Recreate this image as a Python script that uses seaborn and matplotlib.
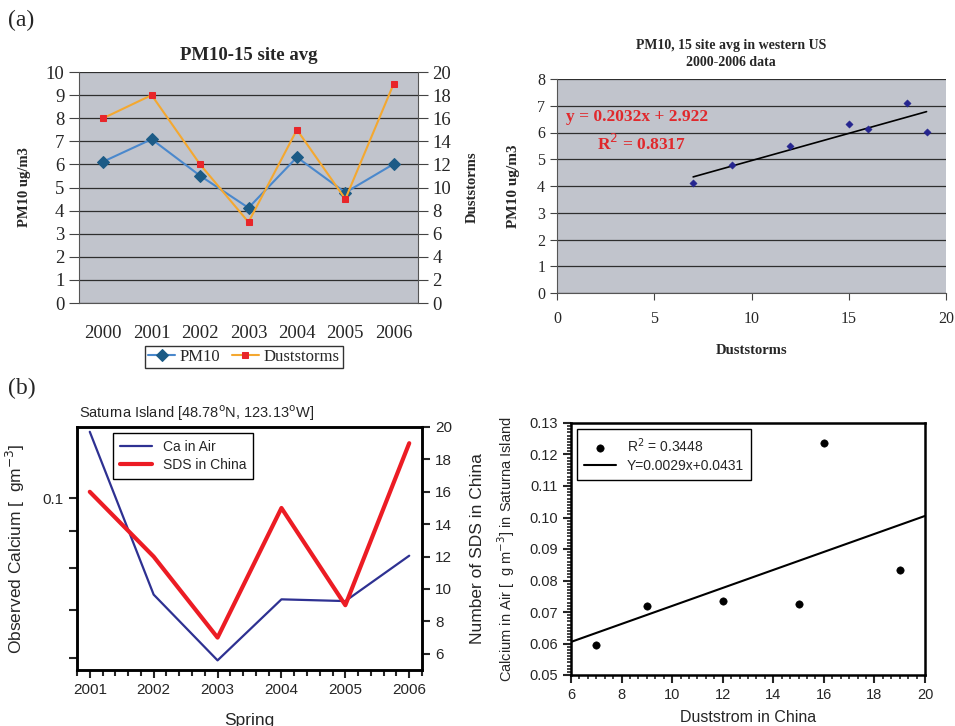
import numpy as np
import matplotlib
matplotlib.use("Agg")
import matplotlib.pyplot as plt
import seaborn as sns
from matplotlib.ticker import MultipleLocator, NullLocator

# Panel (a): PM10 15 site average and duststorm counts
years_a = ["2000", "2001", "2002", "2003", "2004", "2005", "2006"]
pm10 = [6.12, 7.09, 5.51, 4.12, 6.31, 4.78, 6.02]
duststorms = [16, 18, 12, 7, 15, 9, 19]

# trend line ends of the PM10 vs duststorms fit
trend_a_x = [7, 19]
trend_a_y = [4.34, 6.78]

# Panel (b): Saturna Island calcium and SDS in China
years_b = [2001, 2002, 2003, 2004, 2005, 2006]
ca_air = [0.1235, 0.0735, 0.0596, 0.0724, 0.0720, 0.0832]
sds_china = [16, 12, 7, 15, 9, 19]
fit_b_x = [6, 20]
fit_b_y = [0.0605, 0.1005]

sns.set_style("white")
SERIF = "Liberation Serif"
SANS = "Liberation Sans"
plt.rcParams["font.family"] = [SANS, "DejaVu Sans"]

W, H = 955, 726
GRAY = "#c1c4cc"
GRID = "#2e2e2e"
fig = plt.figure(figsize=(W / 100, H / 100), dpi=100)


def box(x0, y0, x1, y1):
    # pixel box -> figure fraction rect
    return [x0 / W, 1 - y1 / H, (x1 - x0) / W, (y1 - y0) / H]


# ---------- (a) left: time series ----------
ax = fig.add_axes(box(79, 72, 418, 303))
ax.set_facecolor(GRAY)
xs = np.arange(len(years_a))
sns.lineplot(x=xs, y=pm10, ax=ax, color="#4a88cc", lw=1.5, marker="D",
             markersize=6, markerfacecolor="#1c5b86", markeredgecolor="#1c5b86",
             label="PM10", legend=False)
ax2 = ax.twinx()
sns.lineplot(x=xs, y=duststorms, ax=ax2, color="#f4a830", lw=1.5, marker="s",
             markersize=5, markerfacecolor="#e8262a", markeredgecolor="#e8262a",
             label="Duststorms", legend=False)
ax.set_xlim(-0.5, 6.5)
ax.set_ylim(0, 10)
ax2.set_ylim(0, 20)
ax.set_yticks(range(0, 11))
ax2.set_yticks(range(0, 21, 2))
ax.yaxis.grid(True, color=GRID, lw=0.9)
ax.set_xticks(xs)
ax.set_xticklabels(years_a)
ax.set_xticks(np.arange(-0.5, 7, 1), minor=True)
ax.tick_params(axis="x", which="major", length=0, pad=16, labelsize=13.5,
               labelfontfamily=SERIF)
ax.tick_params(axis="x", which="minor", length=7, color="#444444")
ax.tick_params(axis="y", length=7, color="#444444", labelsize=13.5,
               labelfontfamily=SERIF, left=True)
ax2.tick_params(axis="y", length=7, color="#444444", labelsize=13.5,
                labelfontfamily=SERIF, right=True)
for s in ["top", "right"]:
    ax.spines[s].set_visible(False)
for s in ["top", "left", "bottom"]:
    ax2.spines[s].set_visible(False)
for a in (ax, ax2):
    for s in a.spines.values():
        s.set_color("#555555")
ax.set_ylabel("PM10 ug/m3", fontfamily=SERIF, fontweight="bold", fontsize=10.5)
ax.yaxis.set_label_coords(-0.142, 0.5)
ax2.set_ylabel("Duststorms", fontfamily=SERIF, fontweight="bold", fontsize=10.5)
ax2.yaxis.set_label_coords(1.142, 0.5)
fig.text(249 / W, 1 - 55 / H, "PM10-15 site avg", fontfamily=SERIF,
         fontweight="bold", fontsize=13.5, ha="center", va="center")
h1, l1 = ax.get_legend_handles_labels()
h2, l2 = ax2.get_legend_handles_labels()
leg = fig.legend(h1 + h2, l1 + l2, loc="center", ncol=2,
                 bbox_to_anchor=(244 / W, 1 - 357 / H),
                 prop={"family": SERIF, "size": 12}, frameon=True,
                 fancybox=False, edgecolor="#333333", framealpha=1,
                 handlelength=1.6, handletextpad=0.3, columnspacing=0.7,
                 borderpad=0.2)

# ---------- (a) right: scatter with trend ----------
axr = fig.add_axes(box(557, 79, 946, 293))
axr.set_facecolor(GRAY)
sns.scatterplot(x=duststorms, y=pm10, ax=axr, marker="D", s=14,
                color="#25258f", edgecolor="#25258f", zorder=3)
sns.lineplot(x=trend_a_x, y=trend_a_y, ax=axr, color="black", lw=1.2)
axr.set_xlim(0, 20)
axr.set_ylim(0, 8)
axr.set_xticks([0, 5, 10, 15, 20])
axr.set_yticks(range(0, 9))
axr.yaxis.grid(True, color=GRID, lw=0.9)
axr.tick_params(axis="both", length=5, color="#444444", labelsize=11.5,
                labelfontfamily=SERIF, left=True, bottom=True)
axr.tick_params(axis="x", pad=8)
for s in ["top", "right"]:
    axr.spines[s].set_visible(False)
for s in ["left", "bottom"]:
    axr.spines[s].set_color("#555555")
axr.set_ylabel("PM10 ug/m3", fontfamily=SERIF, fontweight="bold", fontsize=11)
axr.yaxis.set_label_coords(-0.095, 0.5)
axr.set_xlabel("Duststorms", fontfamily=SERIF, fontweight="bold", fontsize=10.5)
axr.xaxis.set_label_coords(0.5, -0.238)
fig.text(731 / W, 1 - 45 / H, "PM10, 15 site avg in western US",
         fontfamily=SERIF, fontweight="bold", fontsize=10, ha="center", va="center")
fig.text(731 / W, 1 - 63 / H, "2000-2006 data",
         fontfamily=SERIF, fontweight="bold", fontsize=10, ha="center", va="center")
fig.text(566 / W, 1 - 117 / H, "y = 0.2032x + 2.922", color="#e0282c",
         fontfamily=SERIF, fontweight="bold", fontsize=12.5, ha="left", va="center")
fig.text(597 / W, 1 - 144 / H, "R$^2$ = 0.8317", color="#e0282c",
         fontfamily=SERIF, fontweight="bold", fontsize=12.5, ha="left", va="center")

# ---------- (b) left: Saturna Island time series ----------
BLUE = "#2e3192"
RED = "#ec1c24"
axb = fig.add_axes(box(77, 427, 422, 670))
sns.lineplot(x=years_b, y=ca_air, ax=axb, color=BLUE, lw=1.6,
             label="Ca in Air", legend=False)
axb.set_yscale("log")
axb.set_ylim(0.0578, 0.1254)
axb.set_yticks([0.06, 0.07, 0.08, 0.09, 0.1])
axb.set_yticklabels(["", "", "", "", "0.1"])
axb.yaxis.set_minor_locator(NullLocator())
axb2 = axb.twinx()
sns.lineplot(x=years_b, y=sds_china, ax=axb2, color=RED, lw=3,
             label="SDS in China", legend=False)
axb2.set_ylim(5, 20)
axb2.set_yticks(range(6, 21, 2))
axb.set_xlim(2000.8, 2006.2)
axb.set_xticks(years_b)
axb.xaxis.set_minor_locator(MultipleLocator(0.2))
for a in (axb, axb2):
    a.tick_params(which="major", direction="out", length=6, width=1.5,
                  labelsize=11)
    a.tick_params(which="minor", direction="out", length=4, width=1.5)
    for s in a.spines.values():
        s.set_linewidth(1.8)
        s.set_color("black")
axb.tick_params(axis="both", left=True, bottom=True)
axb.tick_params(axis="y", which="both", left=True)
axb.tick_params(axis="x", which="minor", bottom=True)
axb2.tick_params(axis="y", right=True)
axb.set_ylabel("Observed Calcium [  gm$^{-3}$]", fontsize=12.5)
axb.yaxis.set_label_coords(-0.145, 0.5)
axb2.set_ylabel("Number of SDS in China", fontsize=12.5)
axb2.yaxis.set_label_coords(1.139, 0.5)
axb.set_xlabel("Spring", fontsize=12.5)
axb.xaxis.set_label_coords(0.5, -0.175)
fig.text(79 / W, 1 - 413 / H, "Saturna Island [48.78$^{\\rm o}$N, 123.13$^{\\rm o}$W]",
         fontsize=10.5, ha="left", va="center")
hb1, lb1 = axb.get_legend_handles_labels()
hb2, lb2 = axb2.get_legend_handles_labels()
lg = axb2.legend(hb1 + hb2, lb1 + lb2, loc="upper left",
                 bbox_to_anchor=(0.104, 0.975), borderaxespad=0,
                 fancybox=False, edgecolor="black", framealpha=1,
                 fontsize=10, handlelength=2.3, borderpad=0.5,
                 labelspacing=0.3)
lg.get_frame().set_linewidth(1.0)

# ---------- (b) right: calcium vs SDS scatter ----------
axs = fig.add_axes(box(571, 423, 925, 675))
sns.scatterplot(x=sds_china, y=ca_air, ax=axs, color="black", s=28,
                edgecolor="black", label="R$^2$ = 0.3448", legend=False)
sns.lineplot(x=fit_b_x, y=fit_b_y, ax=axs, color="black", lw=1.5,
             label="Y=0.0029x+0.0431", legend=False)
axs.set_xlim(6, 20)
axs.set_ylim(0.05, 0.13)
axs.set_xticks(range(6, 21, 2))
axs.set_yticks(np.arange(0.05, 0.1301, 0.01))
axs.set_yticklabels([f"{v:.2f}" for v in np.arange(0.05, 0.1301, 0.01)])
axs.xaxis.set_minor_locator(MultipleLocator(1 / 3))
axs.yaxis.set_minor_locator(MultipleLocator(0.001))
axs.tick_params(which="major", direction="out", length=6, width=1.5,
                labelsize=10.5, left=True, bottom=True)
axs.tick_params(which="minor", direction="out", length=3, width=1.2,
                left=True, bottom=True)
for s in axs.spines.values():
    s.set_linewidth(1.8)
    s.set_color("black")
axs.set_ylabel("Calcium in Air [  g m$^{-3}$] in Saturna Island", fontsize=10.5)
axs.yaxis.set_label_coords(-0.153, 0.5)
axs.set_xlabel("Duststrom in China", fontsize=11.5)
axs.xaxis.set_label_coords(0.5, -0.14)
ls = axs.legend(loc="upper left", bbox_to_anchor=(0.017, 0.976),
                borderaxespad=0, fancybox=False, edgecolor="black",
                framealpha=1, fontsize=10, handlelength=2.3,
                scatterpoints=1, borderpad=0.5, labelspacing=0.3)
ls.get_frame().set_linewidth(1.0)

# panel letters
fig.text(8 / W, 1 - 20 / H, "(a)", fontfamily=SERIF, fontsize=17,
         ha="left", va="center")
fig.text(8 / W, 1 - 388 / H, "(b)", fontfamily=SERIF, fontsize=17,
         ha="left", va="center")

fig.savefig("out.png", dpi=100)
